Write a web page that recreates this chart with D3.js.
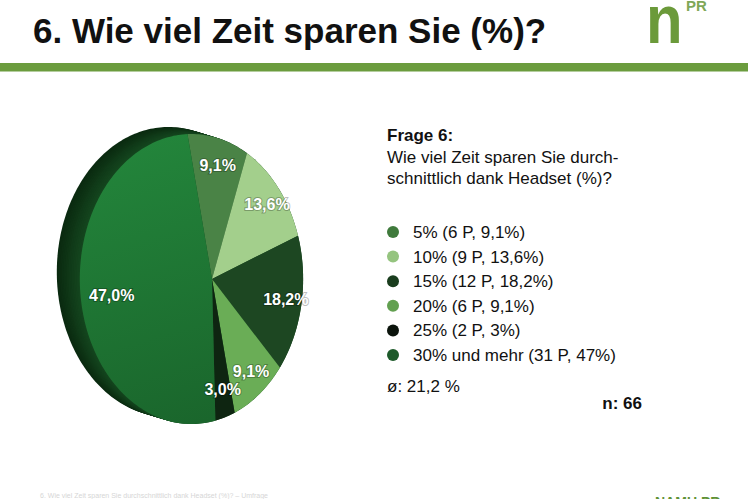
<!DOCTYPE html>
<html>
<head>
<meta charset="utf-8">
<script src="https://cdn.jsdelivr.net/npm/d3@7"></script>
<style>
  body { margin: 0; background: #fff; }
  svg { display: block; font-family: "Liberation Sans", Arial, sans-serif; }
</style>
</head>
<body>
<div id="chart"></div>
<script>
// answers to question 6
var categories = ["5%", "10%", "15%", "20%", "25%", "30% und mehr"];
var persons = [6, 9, 12, 6, 2, 31];
var shares = [9.1, 13.6, 18.2, 9.1, 3.0, 47.0];
var sliceLabels = ["9,1%", "13,6%", "18,2%", "9,1%", "3,0%", "47,0%"];
var legendShares = ["9,1%", "13,6%", "18,2%", "9,1%", "3%", "47%"];
var sliceColors = ["#4a8346", "#a3cf8c", "#1d4722", "#6aad56", "#0e2511", "url(#faceGrad)"];
var legendColors = ["#3f7a3c", "#95c47f", "#1a3d1e", "#62a050", "#0b140c", "#1d5a2a"];

var width = 748, height = 499;

var svg = d3.select("#chart").append("svg")
    .attr("width", width)
    .attr("height", height);

var defs = svg.append("defs");
var grad = defs.append("linearGradient")
    .attr("id", "faceGrad")
    .attr("gradientUnits", "userSpaceOnUse")
    .attr("x1", 130).attr("y1", 140).attr("x2", 210).attr("y2", 420);
grad.append("stop").attr("offset", "0%").attr("stop-color", "#23853b");
grad.append("stop").attr("offset", "100%").attr("stop-color", "#1a662c");

// header
svg.append("text")
    .attr("x", 33).attr("y", 43)
    .style("font-size", "35px").style("font-weight", "bold")
    .attr("fill", "#111")
    .text("6. Wie viel Zeit sparen Sie (%)?");

svg.append("text")
    .attr("transform", "translate(646,43) scale(0.88,1)")
    .style("font-size", "68px").style("font-weight", "bold")
    .attr("fill", "#6b9a3a")
    .text("n");
svg.append("text")
    .attr("x", 686).attr("y", 11)
    .style("font-size", "15px").style("font-weight", "bold")
    .attr("fill", "#7fa858")
    .text("PR");

svg.append("rect")
    .attr("x", 0).attr("y", 63)
    .attr("width", width).attr("height", 8.5)
    .attr("fill", "#6b9c3e");

// tilted pie: disk turned about vertical axis, seen in perspective
var CX = 212, CY = 279, S = 142.5, COSPHI = 0.757, K = 0.184;

function project(theta, rho) {
    var a = theta - Math.PI / 2;
    var c = Math.cos(a) * rho, s = Math.sin(a) * rho;
    var w = 1 + K * c;
    return [CX + S * COSPHI * c / w, CY + S * s / w];
}

function rimPoints(a0, a1) {
    var n = Math.max(2, Math.ceil((a1 - a0) / 0.02));
    return d3.range(n + 1).map(function(i) { return project(a0 + (a1 - a0) * i / n, 1); });
}

var line = d3.line();

var start = -0.22;
var pie = d3.pie().sort(null).startAngle(start).endAngle(start + 2 * Math.PI);
var arcs = pie(shares);

// side of the disk
var outline = line(rimPoints(0, 2 * Math.PI)) + "Z";
var steps = 14, dx = -23, dy = -7;
var rimColor = d3.interpolateRgb("#0a2a10", "#15471f");
var g = svg.append("g");
d3.range(steps, -1, -1).forEach(function(i) {
    g.append("path")
        .attr("d", outline)
        .attr("transform", "translate(" + (dx * i / steps) + "," + (dy * i / steps) + ")")
        .attr("fill", rimColor(1 - i / steps));
});

// face
g.selectAll("path.slice")
    .data(arcs)
    .enter().append("path")
    .attr("class", "slice")
    .attr("d", function(d) {
        return line([[CX, CY]].concat(rimPoints(d.startAngle, d.endAngle))) + "Z";
    })
    .attr("fill", function(d, i) { return sliceColors[i]; });

g.selectAll("text.lbl")
    .data(arcs)
    .enter().append("text")
    .attr("class", "lbl")
    .attr("x", function(d) { return project((d.startAngle + d.endAngle) / 2, 0.8)[0]; })
    .attr("y", function(d) { return project((d.startAngle + d.endAngle) / 2, 0.8)[1] + 5; })
    .attr("text-anchor", "middle")
    .style("font-size", "16px").style("font-weight", "bold")
    .attr("fill", "#fff")
    .attr("stroke", "rgba(0,0,0,0.25)").attr("stroke-width", 2)
    .style("paint-order", "stroke")
    .text(function(d, i) { return sliceLabels[i]; });

// question text
svg.append("text")
    .attr("x", 387).attr("y", 141)
    .style("font-size", "17px").style("font-weight", "bold")
    .attr("fill", "#111")
    .text("Frage 6:");
svg.append("text")
    .attr("x", 387).attr("y", 163)
    .style("font-size", "17px").attr("fill", "#111")
    .text("Wie viel Zeit sparen Sie durch-");
svg.append("text")
    .attr("x", 387).attr("y", 184)
    .style("font-size", "17px").attr("fill", "#111")
    .text("schnittlich dank Headset (%)?");

// legend
var yRow = d3.scalePoint().domain(categories).range([238, 361]);

var leg = svg.selectAll("g.leg")
    .data(categories)
    .enter().append("g")
    .attr("class", "leg")
    .attr("transform", function(d) { return "translate(0," + yRow(d) + ")"; });

leg.append("circle")
    .attr("cx", 393).attr("cy", -6).attr("r", 6)
    .attr("fill", function(d, i) { return legendColors[i]; });

leg.append("text")
    .attr("x", 413).attr("y", 0)
    .style("font-size", "17px").attr("fill", "#111")
    .text(function(d, i) { return d + " (" + persons[i] + " P, " + legendShares[i] + ")"; });

svg.append("text")
    .attr("x", 387).attr("y", 392)
    .style("font-size", "17px").attr("fill", "#111")
    .text("ø: 21,2 %");

svg.append("text")
    .attr("x", 642).attr("y", 409)
    .attr("text-anchor", "end")
    .style("font-size", "17px").style("font-weight", "bold")
    .attr("fill", "#111")
    .text("n: " + d3.sum(persons));

// footer
svg.append("text")
    .attr("x", 40).attr("y", 498)
    .style("font-size", "7px").attr("fill", "#d6d6d6")
    .text("6. Wie viel Zeit sparen Sie durchschnittlich dank Headset (%)? – Umfrage");
svg.append("text")
    .attr("x", 655).attr("y", 507)
    .style("font-size", "14px").style("font-weight", "bold")
    .attr("fill", "#5f9236")
    .text("NAMU PR");
</script>
</body>
</html>
